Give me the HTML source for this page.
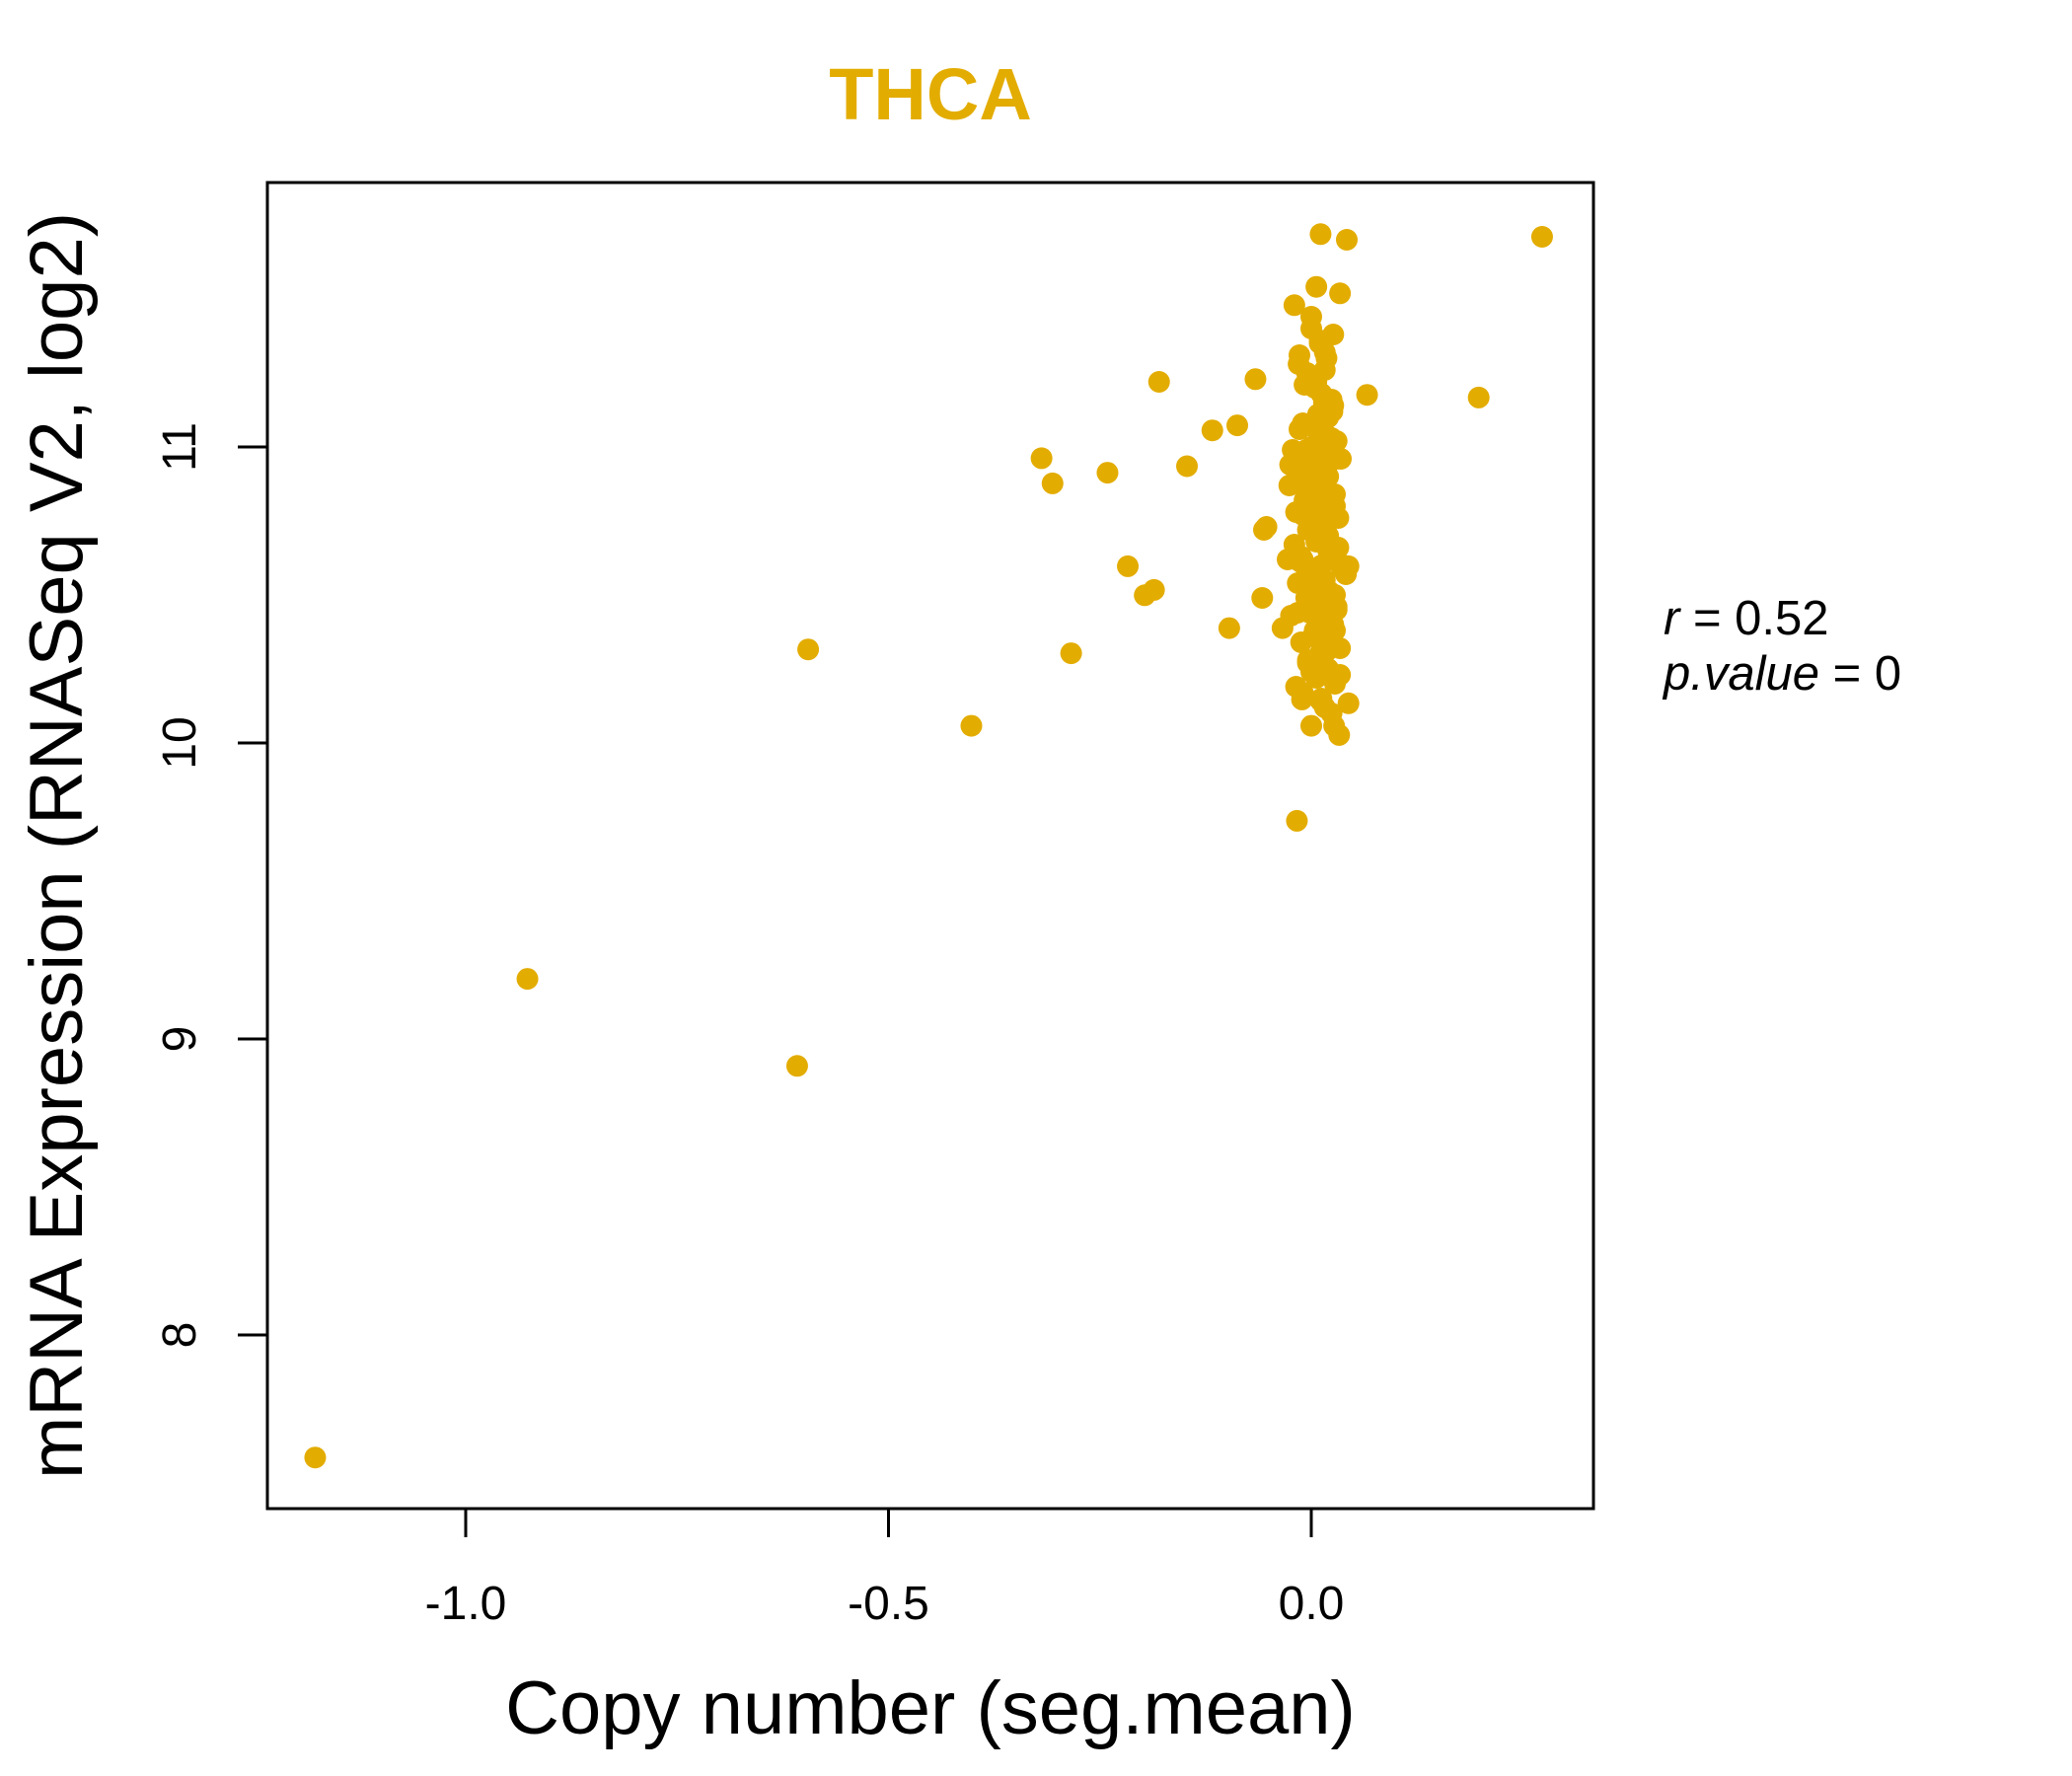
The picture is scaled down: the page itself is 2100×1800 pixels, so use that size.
<!DOCTYPE html>
<html><head><meta charset="utf-8"><style>
html,body{margin:0;padding:0;background:#fff;}
svg{display:block;font-family:"Liberation Sans",sans-serif;}
</style></head><body>
<svg id="chart" width="2100" height="1800" viewBox="0 0 2100 1800" xmlns="http://www.w3.org/2000/svg">
<text x="943" y="121" text-anchor="middle" font-size="74" font-weight="bold" fill="#E3AC00">THCA</text>
<rect x="271" y="185" width="1344" height="1344" fill="none" stroke="#000" stroke-width="3"/>
<g id="xaxis"></g>
<g id="yaxis"></g>
<g id="points"></g>
<text x="943" y="1757" text-anchor="middle" font-size="76">Copy number (seg.mean)</text>
<text transform="translate(83,857) rotate(-90)" text-anchor="middle" font-size="76">mRNA Expression (RNASeq V2, log2)</text>
<text x="1686" y="643" font-size="49"><tspan font-style="italic">r</tspan> = 0.52</text>
<text x="1686" y="699" font-size="49"><tspan font-style="italic">p.value</tspan> = 0</text>
</svg>
<script>
const xTicks = [-1.0, -0.5, 0.0];
const xTickLabels = ["-1.0", "-0.5", "0.0"];
const yTicks = [8, 9, 10, 11];
const yTickLabels = ["8", "9", "10", "11"];
const xValues = [-1.178,-0.927,-0.608,-0.595,-0.402,-0.284,-0.319,-0.306,-0.241,-0.180,-0.217,-0.197,-0.186,-0.147,-0.117,-0.0875,-0.066,-0.097,-0.058,-0.053,-0.056,-0.034,-0.017,0.273,0.198,0.066,0.011,0.042,0.034,0.006,-0.020,0.044,0.033,0.027,0.000,-0.011,0.011,0.044,0.041,
0.000,0.010,0.018,-0.005,0.004,0.015,0.020,-0.015,0.008,0.025,0.000,0.012,-0.010,0.022,0.030,0.005,-0.020,0.018,0.028,0.002,-0.008,0.035,0.014,-0.025,0.010,0.020,-0.004,0.032,0.006,-0.018,0.024,0.012,0.000,-0.012,0.016,0.038,0.004,-0.028,0.022,0.008,0.030,-0.006,0.014,0.026,-0.016,0.002,0.018,0.034,0.010,-0.004,0.020,0.006,0.028,-0.010,0.012,0.000,0.016,0.024,0.004,-0.002,0.010,0.020,0.008,0.014,-0.006,0.002,0.018,0.026,0.012,0.006,0.016,0.000,0.010,
-0.014,0.024,-0.022,0.030,-0.008,0.020,-0.026,0.028,0.004,-0.018,0.032,-0.002,0.014,-0.020,0.026,-0.010,0.036,0.000,-0.016,0.022,-0.006,0.030,-0.024,0.010,0.028,-0.012,0.018,-0.004,0.034,-0.018,0.008,0.024,-0.008,0.016,-0.014,0.026,0.002,-0.010,0.020,0.012,-0.002,0.022,-0.006,0.014,0.004,0.018,-0.012,0.028,0.008,-0.004];
const yValues = [7.586,9.203,8.909,10.316,10.058,10.303,10.962,10.877,10.913,11.220,10.597,10.499,10.517,10.935,11.056,11.073,11.229,10.388,10.490,10.730,10.720,10.388,9.737,11.710,11.167,11.176,11.719,11.700,11.519,11.541,11.479,10.134,10.027,10.058,10.058,10.147,10.143,10.597,10.570,
11.40,11.36,11.30,11.25,11.20,11.15,11.10,11.28,11.05,11.12,11.00,10.98,11.08,10.95,11.02,10.92,10.88,10.85,10.80,10.90,10.82,10.96,10.78,10.94,10.75,10.70,10.72,10.66,10.68,10.62,10.64,10.60,10.58,10.63,10.55,10.60,10.52,10.62,10.50,10.48,10.45,10.56,10.42,10.40,10.44,10.36,10.35,10.32,10.30,10.28,10.25,10.22,10.20,10.17,10.15,10.24,10.12,10.10,10.38,10.46,10.54,10.65,10.74,10.83,10.86,10.97,11.04,11.14,11.18,11.22,11.32,11.44,11.35,
11.06,11.03,10.99,10.96,10.93,10.90,10.87,10.84,10.81,10.78,10.76,10.73,10.70,10.67,10.65,10.62,10.59,10.57,10.54,10.51,10.49,10.46,10.43,10.41,10.38,10.34,10.31,10.27,10.23,10.19,11.11,11.16,11.21,11.26,11.31,11.38,10.88,10.77,10.66,10.55,10.44,10.33,10.99,10.92,10.83,10.71,10.61,10.50,11.09,10.94];
const X0 = 1329, XS = 857, Y10 = 753, YS = 300;
function sx(v){ return X0 + v*XS; }
function sy(v){ return Y10 - (v-10)*YS; }
const NS = "http://www.w3.org/2000/svg";
const xa = document.getElementById('xaxis');
xTicks.forEach((t,i)=>{
  const l = document.createElementNS(NS,'line');
  
  
  l.setAttribute('x1',sx(t)); l.setAttribute('x2',sx(t));
  l.setAttribute('y1',1529); l.setAttribute('y2',1558);
  l.setAttribute('stroke','#000'); l.setAttribute('stroke-width','3');
  xa.appendChild(l);
  const tx = document.createElementNS(NS,'text');
  
  
  tx.setAttribute('x',sx(t)); tx.setAttribute('y',1641);
  tx.setAttribute('text-anchor','middle'); tx.setAttribute('font-size','48');
  tx.textContent = xTickLabels[i];
  xa.appendChild(tx);
});
const ya = document.getElementById('yaxis');
yTicks.forEach((t,i)=>{
  const l = document.createElementNS(NS,'line');
  
  
  l.setAttribute('x1',241); l.setAttribute('x2',271);
  l.setAttribute('y1',sy(t)); l.setAttribute('y2',sy(t));
  l.setAttribute('stroke','#000'); l.setAttribute('stroke-width','3');
  ya.appendChild(l);
  const tx = document.createElementNS(NS,'text');
  
  
  tx.setAttribute('transform','translate(198,'+sy(t)+') rotate(-90)');
  tx.setAttribute('text-anchor','middle'); tx.setAttribute('font-size','48');
  tx.textContent = yTickLabels[i];
  ya.appendChild(tx);
});
const pg = document.getElementById('points');
xValues.forEach((v,i)=>{
  const c = document.createElementNS(NS,'circle');
  
  
  c.setAttribute('cx',sx(v)); c.setAttribute('cy',sy(yValues[i]));
  c.setAttribute('r',11); c.setAttribute('fill','#E3AC00');
  pg.appendChild(c);
});
</script>
</body></html>
